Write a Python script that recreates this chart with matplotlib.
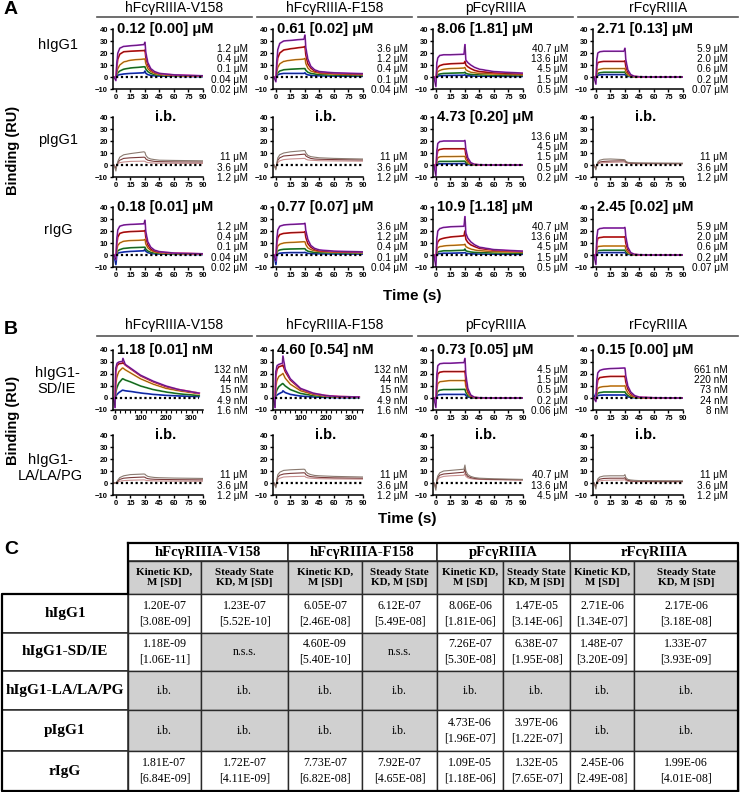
import matplotlib.pyplot as plt
from matplotlib.patches import Rectangle
from matplotlib.ticker import MultipleLocator

plt.rcParams['font.family'] = ['Liberation Sans', 'DejaVu Sans']

W, H = 740, 792

# time grids (s)
T_SHORT = [-2, 0, 1, 2, 4, 8, 15, 29, 30, 31, 33, 36, 40, 45, 60, 90]
T_LONG = [-5, 0, 3, 8, 15, 29, 31, 40, 60, 100, 150, 200, 250, 330]

receptors = ["hFcγRIIIA-V158", "hFcγRIIIA-F158", "pFcγRIIIA", "rFcγRIIIA"]

# ---------------- panel A : sensorgrams (RU), top curve first ----------------
hIgG1_V158 = [[0, -3, 12, 20, 24, 25.5, 26, 27, 29, 20, 12, 7, 4.5, 3, 1.8, 1],
              [0, -1, 9, 15, 19, 21, 21.5, 22, 22.5, 16, 10, 6, 4, 2.8, 1.6, 0.8],
              [0, 0, 4, 7, 10, 12.5, 14, 15, 15, 11, 7, 4.5, 3, 2.2, 1.3, 0.7],
              [0, 0, 2, 3.5, 5, 6.5, 7.5, 8.5, 8.5, 6.5, 4.5, 3, 2, 1.5, 1, 0.5],
              [0, 0, 0.8, 1.5, 2, 2.5, 3, 3.5, 5, 3, 2, 1.3, 1, 0.8, 0.6, 0.3]]
hIgG1_F158 = [[0, -4, 14, 23, 28, 30, 30.5, 31.5, 35, 24, 15, 9, 6, 4.5, 3.5, 2.8],
              [0, -2, 10, 16, 20, 22.5, 23.5, 25, 25.5, 18, 11, 7.5, 5, 4, 3, 2.5],
              [0, -1, 5, 8, 11, 13, 14, 15, 15.5, 11, 7.5, 5, 4, 3.2, 2.5, 2],
              [0, 0, 2, 3.5, 5, 6, 6.5, 7, 7, 5.5, 4, 3, 2.5, 2, 1.6, 1.3],
              [0, 0, 1, 1.8, 2.5, 3, 3, 3, 3.5, 2.5, 1.8, 1.4, 1.1, 1, 0.8, 0.6]]
hIgG1_p = [[0, -8, 12, 16, 18, 18.5, 18.5, 19, 27, 14, 12, 10, 8, 6.5, 4.5, 3.2],
           [0, -3, 6, 8, 9.5, 10.5, 11, 11.5, 13, 10, 8.5, 7, 5.5, 4.5, 3.5, 2.8],
           [0, -1, 3, 4.5, 5.5, 6.5, 7, 7.5, 8, 6, 5, 4, 3.5, 3, 2.5, 2],
           [0, 0, 1, 2, 2.5, 3, 3.2, 3.5, 4, 3, 2.5, 2.2, 2, 1.8, 1.5, 1.3],
           [0, 0, 0.5, 0.8, 1, 1.2, 1.3, 1.5, 1.8, 1.3, 1, 0.9, 0.8, 0.7, 0.6, 0.5]]
hIgG1_r = [[0, -6, 15, 20, 21, 21.5, 21.5, 21.5, 24, 14, 6, 2, 0.5, 0.2, 0, 0],
           [0, -2, 9, 12, 12.5, 13, 13, 13, 13.5, 8.5, 4, 1.5, 0.4, 0.1, 0, 0],
           [0, -1, 4, 6, 6.5, 7, 7, 7, 7.2, 4.5, 2, 0.8, 0.2, 0, 0, 0],
           [0, 0, 2, 3, 3.5, 4, 4, 4, 4.2, 2.6, 1.2, 0.5, 0.1, 0, 0, 0],
           [0, 0, 1, 1.5, 1.8, 2, 2, 2, 2.2, 1.3, 0.6, 0.2, 0, 0, 0, 0]]

pIgG1_V158 = [[0, -5, 0, 3, 6.5, 8.5, 9.5, 11, 10.5, 8, 6, 5, 4.5, 4, 3.8, 3.5],
              [0, -3, 0, 2, 4, 5.5, 6, 6.5, 6.3, 5, 4, 3.5, 3, 2.8, 2.6, 2.5],
              [0, -2, 0, 1, 2, 2.5, 3, 3.2, 3.1, 2.5, 2, 1.8, 1.6, 1.5, 1.4, 1.3]]
pIgG1_F158 = [[0, -4, 2, 6, 8.5, 10, 11, 12, 12, 10, 8, 7, 6.5, 6, 5.5, 5],
              [0, -3, 1, 4, 6, 7.5, 8, 9, 9, 7.5, 6.5, 5.5, 5, 4.8, 4.5, 4.2],
              [0, -2, 0, 2, 3.5, 4.5, 5, 5.5, 5.5, 4.8, 4.2, 4, 3.8, 3.6, 3.4, 3.2]]
pIgG1_p = [[0, -9, 12, 18, 19.5, 20, 20, 20, 20.5, 13, 6, 2, 0.5, 0.2, 0, 0],
           [0, -4, 8, 12, 13, 13.5, 13.5, 13.5, 13.5, 8.5, 4, 1.5, 0.4, 0.1, 0, 0],
           [0, -2, 4, 6, 6.8, 7, 7, 7.2, 7.2, 4.5, 2, 0.8, 0.2, 0, 0, 0],
           [0, -1, 1.5, 2.5, 3, 3, 3, 3.2, 3.2, 2, 0.9, 0.4, 0.1, 0, 0, 0],
           [0, 0, 0.5, 0.8, 1, 1, 1, 1.2, 1.2, 0.8, 0.4, 0.1, 0, 0, 0, 0]]
pIgG1_r = [[0, -4, 0, 2.5, 4, 4.8, 5, 4.5, 4.2, 3, 2.2, 2, 1.8, 1.7, 1.6, 1.5],
           [0, -3, 0, 1.5, 2.5, 3, 3.3, 3.5, 3.3, 2.5, 1.8, 1.6, 1.5, 1.4, 1.3, 1.2],
           [0, -2, 0, 1, 1.5, 2, 2.2, 2.5, 2.3, 1.8, 1.4, 1.2, 1.1, 1, 1, 1]]

rIgG_V158 = [[0, -4, 14, 21, 24, 25, 25.5, 26, 29, 19, 11, 6.5, 4, 2.8, 1.6, 1],
             [0, -3, 10, 15, 18, 19, 19.5, 20, 20.5, 14.5, 8.5, 5, 3.3, 2.4, 1.5, 0.9],
             [0, -2, 5, 8, 10, 11.5, 12, 12.5, 13, 9, 6, 3.8, 2.6, 2, 1.3, 0.8],
             [0, -1, 2, 3.5, 4.5, 5.5, 6, 6.5, 6.5, 4.8, 3.3, 2.3, 1.7, 1.3, 0.9, 0.6],
             [0, -8, 0.5, 1.5, 2, 2.5, 3, 3.5, 5, 3, 2, 1.3, 1, 0.8, 0.6, 0.4]]
rIgG_F158 = [[0, -5, 14, 21, 24, 25, 25.5, 26, 26.5, 20, 13, 8, 5.5, 4.2, 3.2, 2.6],
             [0, -3, 10, 14.5, 17, 18, 18.5, 19, 19.5, 14.5, 9.5, 6.5, 4.5, 3.6, 2.8, 2.3],
             [0, -2, 5, 7.5, 9, 10, 10.5, 11, 11, 8.5, 6, 4.5, 3.5, 3, 2.5, 2],
             [0, -1, 2, 3.5, 4.2, 4.8, 5, 5.2, 5.2, 4.2, 3.2, 2.6, 2.2, 2, 1.8, 1.6],
             [0, -8, 0.5, 1, 1.5, 1.8, 2, 2, 2.2, 1.8, 1.4, 1.2, 1, 1, 0.9, 0.8]]
rIgG_p = [[0, -10, 14, 20, 22, 23, 23.5, 24, 32, 18, 14, 11, 8.5, 6.5, 4.5, 3.2],
          [0, -5, 8, 11, 13, 14, 15, 16, 20, 13, 10.5, 8.5, 7, 5.5, 4, 3],
          [0, -2, 4, 6, 7, 7.5, 8, 8.5, 9, 7, 6, 5, 4.2, 3.6, 2.8, 2.3],
          [0, -1, 1.5, 2.5, 3, 3.5, 3.5, 4, 5, 3.5, 3, 2.5, 2.2, 2, 1.7, 1.5],
          [0, 0, 0.5, 1, 1.2, 1.5, 1.5, 1.8, 2, 1.5, 1.2, 1, 0.9, 0.8, 0.7, 0.6]]
rIgG_r = [[0, -8, 15, 21, 22, 22.5, 22.5, 22.5, 23, 15, 6.5, 2, 0.5, 0.2, 0, 0],
          [0, -3, 10, 14, 14.5, 15, 15, 15, 15.2, 9.5, 4.5, 1.5, 0.4, 0.1, 0, 0],
          [0, -1, 5, 7, 7.3, 7.5, 7.5, 7.5, 7.6, 4.8, 2.2, 0.8, 0.2, 0, 0, 0],
          [0, 0, 2.5, 3.5, 3.8, 4, 4, 4, 4.1, 2.6, 1.2, 0.4, 0.1, 0, 0, 0],
          [0, 0, 1.2, 1.8, 1.9, 2, 2, 2, 2.1, 1.3, 0.6, 0.2, 0, 0, 0, 0]]

# ---------------- panel B ----------------
sdie_V158 = [[0, -8, 25, 29, 30, 30.5, 33, 28, 25, 19, 14, 10, 7, 4],
             [0, -5, 22, 27, 28.5, 29, 29.5, 27.5, 24.5, 18.5, 13.5, 9.5, 7, 4],
             [0, -3, 12, 18, 22, 25, 25, 23.5, 21, 16, 11.5, 8, 6, 3.5],
             [0, -1, 5, 9, 12.5, 16, 16, 15, 13.5, 10, 7, 5, 3.5, 2],
             [0, 0, 1.5, 3, 4.5, 6.5, 6.5, 6, 5.5, 4.2, 3, 2.2, 1.7, 1.2]]
sdie_F158 = [[0, -8, 22, 27, 28, 29, 35, 24, 16, 8, 4, 2, 1.2, 0.8],
             [0, -5, 18, 24, 26, 27, 27.5, 22, 15, 7.5, 3.8, 2, 1.2, 0.8],
             [0, -3, 10, 15, 18, 20, 20.5, 16.5, 11.5, 6, 3, 1.6, 1, 0.6],
             [0, -1, 4, 7, 9.5, 12, 12, 10, 7, 3.8, 2, 1.1, 0.7, 0.4],
             [0, 0, 1.5, 2.5, 3.5, 5, 6, 4.5, 3, 1.6, 0.9, 0.5, 0.3, 0.2]]
sdie_p = [[0, -8, 20, 27, 28.5, 29, 29, 29.5, 33, 19, 8, 2.5, 0.5, 0.2, 0, 0],
          [0, -4, 14, 20, 21.5, 22, 22, 22, 22.5, 14, 6, 2, 0.4, 0.1, 0, 0],
          [0, -2, 8, 12, 13.5, 14, 14.5, 14.5, 14.8, 9.5, 4, 1.3, 0.3, 0, 0, 0],
          [0, -1, 3.5, 5.5, 6.5, 7, 7, 7.2, 7.3, 4.7, 2, 0.7, 0.2, 0, 0, 0],
          [0, 0, 1.5, 2.5, 2.8, 3, 3, 3, 3.1, 2, 0.9, 0.3, 0, 0, 0, 0]]
sdie_r = [[0, -3, 15, 21, 23, 24, 24.5, 25, 25, 18, 10, 5, 2, 0.7, 0.2, 0],
          [0, -2, 10, 15, 17, 17.5, 18, 18, 18.2, 13, 7.5, 3.8, 1.5, 0.5, 0.1, 0],
          [0, -1, 5, 8, 9, 9.5, 10, 10, 10.2, 7.3, 4.2, 2.1, 0.8, 0.3, 0, 0],
          [0, 0, 2.5, 4, 4.5, 5, 5, 5, 5.1, 3.7, 2.1, 1, 0.4, 0.1, 0, 0],
          [0, 4, 1.5, 2, 2.3, 2.5, 2.5, 2.5, 2.6, 1.8, 1, 0.5, 0.2, 0, 0, 0]]

lalapg_V158 = [[0, 0, 1, 2.5, 4.5, 6, 7, 7.5, 7.3, 6.5, 5.5, 5, 4.6, 4.4, 4.1, 3.8],
               [0, 0, 0.5, 1.5, 3, 4, 4.5, 5, 4.8, 4.2, 3.6, 3.3, 3.1, 3, 2.8, 2.6],
               [0, 0, 0.3, 0.8, 1.5, 2, 2.3, 2.6, 2.5, 2.2, 2, 1.9, 1.8, 1.7, 1.6, 1.5]]
lalapg_F158 = [[0, -4, 3, 7, 9, 10.5, 11, 11.5, 11.2, 9.5, 8, 7, 6.3, 6, 5.5, 5],
               [0, -3, 2, 5, 6.5, 7.5, 8, 8.5, 8.3, 7, 6, 5.3, 5, 4.7, 4.3, 4],
               [0, -2, 1, 3, 4, 5, 5.3, 5.6, 5.5, 4.8, 4.3, 4, 3.8, 3.6, 3.4, 3.2]]
lalapg_p = [[0, -6, 3, 6, 8.5, 10, 10.5, 11.5, 15, 10, 7, 5.5, 4.5, 4, 3.5, 3],
            [0, -4, 2, 4.5, 6.5, 7.5, 8, 9, 12, 7.5, 5.5, 4.5, 3.8, 3.4, 3, 2.7],
            [0, -2, 1, 3, 4.5, 5.5, 6, 6.5, 8, 5.5, 4.3, 3.6, 3.2, 3, 2.7, 2.4]]
lalapg_r = [[0, -5, 1, 3.5, 5, 5.8, 6, 6, 7, 4.5, 3, 2.5, 2.2, 2, 1.9, 1.8],
            [0, -3, 0.5, 2, 3.2, 3.8, 4, 4, 4.5, 3, 2.2, 1.8, 1.6, 1.5, 1.4, 1.3],
            [0, -2, 0.2, 1, 1.8, 2.2, 2.4, 2.5, 2.8, 2, 1.5, 1.3, 1.2, 1.1, 1, 1]]

# concentration labels
conc_V = ["1.2 μM", "0.4 μM", "0.1 μM", "0.04 μM", "0.02 μM"]
conc_F = ["3.6 μM", "1.2 μM", "0.4 μM", "0.1 μM", "0.04 μM"]
conc_p = ["40.7 μM", "13.6 μM", "4.5 μM", "1.5 μM", "0.5 μM"]
conc_r = ["5.9 μM", "2.0 μM", "0.6 μM", "0.2 μM", "0.07 μM"]
conc_ib = ["11 μM", "3.6 μM", "1.2 μM"]
conc_p_pIgG1 = ["13.6 μM", "4.5 μM", "1.5 μM", "0.5 μM", "0.2 μM"]
conc_sdie_h = ["132 nM", "44 nM", "15 nM", "4.9 nM", "1.6 nM"]
conc_sdie_p = ["4.5 μM", "1.5 μM", "0.5 μM", "0.2 μM", "0.06 μM"]
conc_sdie_r = ["661 nM", "220 nM", "73 nM", "24 nM", "8 nM"]
conc_lala_p = ["40.7 μM", "13.6 μM", "4.5 μM"]

# KD titles (None = i.b.)
titles_A = [["0.12 [0.00] μM", "0.61 [0.02] μM", "8.06 [1.81] μM", "2.71 [0.13] μM"],
            [None, None, "4.73 [0.20] μM", None],
            ["0.18 [0.01] μM", "0.77 [0.07] μM", "10.9 [1.18] μM", "2.45 [0.02] μM"]]
titles_B = [["1.18 [0.01] nM", "4.60 [0.54] nM", "0.73 [0.05] μM", "0.15 [0.00] μM"],
            [None, None, None, None]]

# ---------------- panel C : table ----------------
sub_headers = ["Kinetic KD,\nM [SD]", "Steady State\nKD, M [SD]"]
row_names = ["hIgG1", "hIgG1-SD/IE", "hIgG1-LA/LA/PG", "pIgG1", "rIgG"]
kd_hIgG1 = ["1.20E-07\n[3.08E-09]", "1.23E-07\n[5.52E-10]", "6.05E-07\n[2.46E-08]", "6.12E-07\n[5.49E-08]",
            "8.06E-06\n[1.81E-06]", "1.47E-05\n[3.14E-06]", "2.71E-06\n[1.34E-07]", "2.17E-06\n[3.18E-08]"]
kd_sdie = ["1.18E-09\n[1.06E-11]", "n.s.s.", "4.60E-09\n[5.40E-10]", "n.s.s.",
           "7.26E-07\n[5.30E-08]", "6.38E-07\n[1.95E-08]", "1.48E-07\n[3.20E-09]", "1.33E-07\n[3.93E-09]"]
kd_lalapg = ["i.b."] * 8
kd_pIgG1 = ["i.b.", "i.b.", "i.b.", "i.b.", "4.73E-06\n[1.96E-07]", "3.97E-06\n[1.22E-07]", "i.b.", "i.b."]
kd_rIgG = ["1.81E-07\n[6.84E-09]", "1.72E-07\n[4.11E-09]", "7.73E-07\n[6.82E-08]", "7.92E-07\n[4.65E-08]",
           "1.09E-05\n[1.18E-06]", "1.32E-05\n[7.65E-07]", "2.45E-06\n[2.49E-08]", "1.99E-06\n[4.01E-08]"]

COLORS5 = ['#a634c8', '#e02020', '#f5a030', '#2e9a3a', '#2040e0']
COLORS3 = ['#8a7a70', '#7a3b3b', '#c89090']
GREY = '#d0d0d0'

fig = plt.figure(figsize=(7.4, 7.92), dpi=100)
bg = fig.add_axes([0, 0, 1, 1])
bg.set_xlim(0, W)
bg.set_ylim(H, 0)
bg.axis('off')


def px_box(left, top, w, h):
    return [left / W, 1 - (top + h) / H, w / W, h / H]


def panel(left, top, t, curves, title, concs, long_time=False):
    ax = fig.add_axes(px_box(left, top, 90, 60))
    ib = len(curves) == 3
    cols = COLORS3 if ib else COLORS5
    for y, c in zip(curves[::-1], cols[::-1]):
        ax.plot(t, y, color=c, lw=1.25 if not ib else 0.8)
        if not ib:
            ax.plot(t, y, color='black', lw=0.35, alpha=0.75)
    ax.hlines(0, 0, t[-1], colors='black', linestyles=(0, (1, 1.2)), lw=1.6)
    ax.set_ylim(-10, 40)
    ax.set_yticks(range(-10, 41, 10))
    if long_time:
        ax.set_xlim(-8, 345)
        ax.set_xticks([0, 100, 200, 300])
        ax.xaxis.set_minor_locator(MultipleLocator(20))
    else:
        ax.set_xlim(-3, 90)
        ax.set_xticks(range(0, 91, 15))
    for s in ['top', 'right']:
        ax.spines[s].set_visible(False)
    for s in ['left', 'bottom']:
        ax.spines[s].set_linewidth(1.1)
    ax.tick_params(labelsize=5.5, width=1, length=2.5, pad=1)
    ax.tick_params(which='minor', width=0.8, length=1.8)
    for lab in ax.get_xticklabels() + ax.get_yticklabels():
        lab.set_fontweight('bold')
    txt = title if title else "i.b."
    ax.text(0.58, 1.0, txt, transform=ax.transAxes, ha='center', va='center',
            fontsize=10.5, fontweight='bold')
    n = len(concs)
    for i, lab in enumerate(concs):
        bg.text(left + 135, top + 61 - (n - 1 - i) * 10.3, lab, ha='right', va='center', fontsize=7.2)


lefts = [113, 273, 433, 593]
tops_A = [29, 117, 207]
tops_B = [350, 435]

curves_A = [[hIgG1_V158, hIgG1_F158, hIgG1_p, hIgG1_r],
            [pIgG1_V158, pIgG1_F158, pIgG1_p, pIgG1_r],
            [rIgG_V158, rIgG_F158, rIgG_p, rIgG_r]]
concs_A = [[conc_V, conc_F, conc_p, conc_r],
           [conc_ib, conc_ib, conc_p_pIgG1, conc_ib],
           [conc_V, conc_F, conc_p, conc_r]]
for r in range(3):
    for c in range(4):
        panel(lefts[c], tops_A[r], T_SHORT, curves_A[r][c], titles_A[r][c], concs_A[r][c])

curves_B = [[sdie_V158, sdie_F158, sdie_p, sdie_r],
            [lalapg_V158, lalapg_F158, lalapg_p, lalapg_r]]
concs_B = [[conc_sdie_h, conc_sdie_h, conc_sdie_p, conc_sdie_r],
           [conc_ib, conc_ib, conc_lala_p, conc_ib]]
for r in range(2):
    for c in range(4):
        long_t = (r == 0 and c < 2)
        panel(lefts[c], tops_B[r], T_LONG if long_t else T_SHORT, curves_B[r][c],
              titles_B[r][c], concs_B[r][c], long_time=long_t)

# column headers
hdr_spans = [(97, 252), (257, 412), (418, 573), (578, 738)]
for (x0, x1), name in zip(hdr_spans, receptors):
    for ty, ly in [(8, 17), (325, 336)]:
        bg.text((x0 + x1) / 2, ty, name, ha='center', va='center', fontsize=10)
        bg.plot([x0, x1], [ly, ly], color='#555555', lw=1.2)

# panel letters and axis labels
bg.text(4, 10, "A", fontsize=14, fontweight='bold', va='center')
bg.text(4, 330, "B", fontsize=14, fontweight='bold', va='center')
bg.text(4, 550, "C", fontsize=14, fontweight='bold', va='center')
bg.text(13, 150, "Binding (RU)", rotation=90, ha='center', va='center', fontsize=10.5, fontweight='bold')
bg.text(13, 420, "Binding (RU)", rotation=90, ha='center', va='center', fontsize=10.5, fontweight='bold')
bg.text(412, 296, "Time (s)", ha='center', va='center', fontsize=11, fontweight='bold')
bg.text(407, 519, "Time (s)", ha='center', va='center', fontsize=11, fontweight='bold')

for name, y in zip(["hIgG1", "pIgG1", "rIgG"], [45, 140, 230]):
    bg.text(58, y, name, ha='center', va='center', fontsize=10.5)
bg.text(57, 381, "hIgG1-\nSD/IE", ha='center', va='center', fontsize=10.5, linespacing=1.1)
bg.text(50, 468, "hIgG1-\nLA/LA/PG", ha='center', va='center', fontsize=10.5, linespacing=1.1)

# table
col_x = [2, 128, 201, 288, 362, 437, 503, 570, 634, 738]
hdr_y = [543, 561, 594]
row_y = [594, 633, 671, 710, 751, 791]
serif = 'Liberation Serif'
edge = '#2a2a2a'

for g, name in enumerate(receptors):
    x0, x1 = col_x[1 + 2 * g], col_x[3 + 2 * g]
    bg.add_patch(Rectangle((x0, hdr_y[0]), x1 - x0, hdr_y[1] - hdr_y[0], fc='white', ec=edge, lw=1.1))
    bg.text((x0 + x1) / 2, (hdr_y[0] + hdr_y[1]) / 2 + 0.5, name, ha='center', va='center',
            fontsize=10.5, fontweight='bold', family=serif)
for j in range(8):
    x0, x1 = col_x[1 + j], col_x[2 + j]
    bg.add_patch(Rectangle((x0, hdr_y[1]), x1 - x0, hdr_y[2] - hdr_y[1], fc=GREY, ec=edge, lw=1.0))
    bg.text((x0 + x1) / 2, (hdr_y[1] + hdr_y[2]) / 2, sub_headers[j % 2], ha='center', va='center',
            fontsize=7.9, fontweight='bold', family=serif, linespacing=1.25)

table_rows = [kd_hIgG1, kd_sdie, kd_lalapg, kd_pIgG1, kd_rIgG]
for i, (name, vals) in enumerate(zip(row_names, table_rows)):
    y0, y1 = row_y[i], row_y[i + 1]
    bg.add_patch(Rectangle((col_x[0], y0), col_x[1] - col_x[0], y1 - y0, fc='white', ec=edge, lw=1.1))
    bg.text((col_x[0] + col_x[1]) / 2, (y0 + y1) / 2, name, ha='center', va='center',
            fontsize=11, fontweight='bold', family=serif)
    for j, v in enumerate(vals):
        x0, x1 = col_x[1 + j], col_x[2 + j]
        fc = GREY if v in ("i.b.", "n.s.s.") else 'white'
        bg.add_patch(Rectangle((x0, y0), x1 - x0, y1 - y0, fc=fc, ec=edge, lw=1.0))
        bg.text((x0 + x1) / 2, (y0 + y1) / 2, v, ha='center', va='center',
                fontsize=8.6, family=serif, linespacing=1.35)

# heavier outer frame of the table
bg.plot([col_x[1], col_x[-1], col_x[-1]], [hdr_y[0], hdr_y[0], row_y[-1]], color='black', lw=1.6)
bg.plot([col_x[1], col_x[1], col_x[0], col_x[0], col_x[-1]],
        [hdr_y[0], row_y[0], row_y[0], row_y[-1], row_y[-1]], color='black', lw=1.6)

fig.savefig("out.png", dpi=100)
